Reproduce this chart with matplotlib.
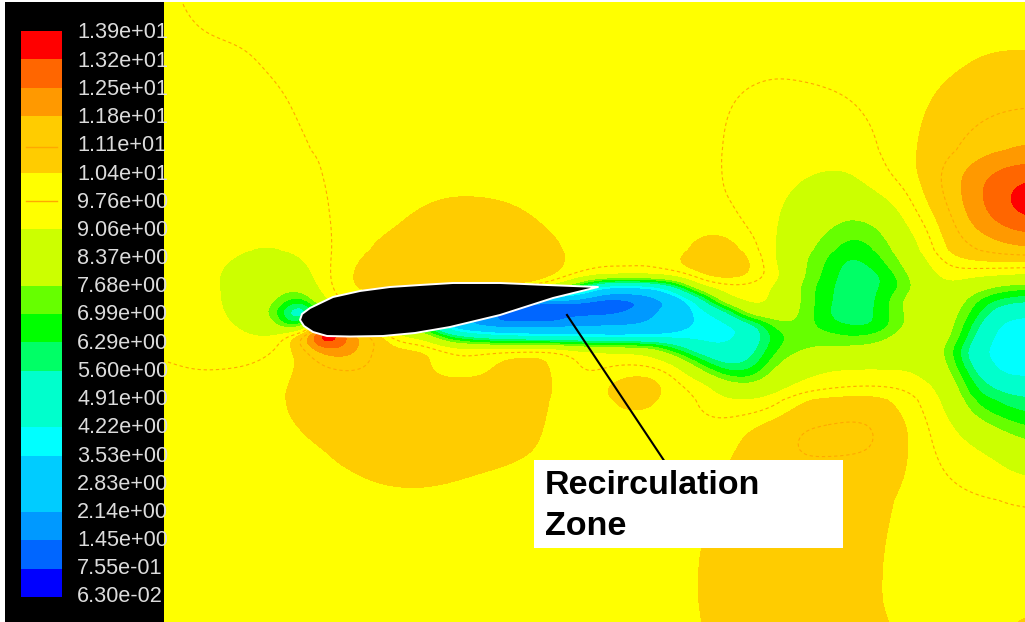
import numpy as np
import matplotlib
matplotlib.use("Agg")
import matplotlib.pyplot as plt
from matplotlib.patches import Polygon, Rectangle

level_labels = ["1.39e+01", "1.32e+01", "1.25e+01", "1.18e+01", "1.11e+01", "1.04e+01", "9.76e+00",
                "9.06e+00", "8.37e+00", "7.68e+00", "6.99e+00", "6.29e+00", "5.60e+00", "4.91e+00",
                "4.22e+00", "3.53e+00", "2.83e+00", "2.14e+00", "1.45e+00", "7.55e-01", "6.30e-02"]
level_values = [float(s) for s in level_labels]
band_colors = ["#ff0000", "#ff6600", "#ff9900", "#ffcc00", "#ffcc00", "#ffff00", "#ffff00",
               "#ccff00", "#ccff00", "#66ff00", "#00ff00", "#00ff66", "#00ffcc", "#00ffcc",
               "#00ffff", "#00ccff", "#00ccff", "#0099ff", "#0066ff", "#0000ff"]
line_levels = [9.76, 11.1]

x_nodes = list(range(150, 1051, 25))
y_nodes = [0, 50, 100, 150, 175, 200, 225, 250, 262, 275, 287, 300, 312, 325, 337, 350, 362, 375,
           387, 400, 425, 450, 475, 500, 550, 600, 625]
speed = [
 [9.7,9.75,9.85,9.9,9.9,9.9,9.9,9.9,9.9,9.9,9.9,9.9,9.9,9.9,9.9,9.9,9.9,9.9,9.9,9.9,9.9,9.9,9.9,9.9,9.9,9.9,9.9,9.9,9.9,9.9,10.0,10.0,10.05,10.1,10.1,10.1,10.1],
 [9.65,9.65,9.7,9.72,9.76,9.85,9.9,9.9,9.9,9.9,9.9,9.9,9.9,9.9,9.9,9.9,9.9,9.9,9.9,9.9,9.9,9.9,9.9,9.9,9.9,9.9,9.9,9.9,9.9,9.95,10.0,10.05,10.15,10.3,10.35,10.35,10.35],
 [9.6,9.6,9.6,9.62,9.65,9.7,9.8,9.9,9.9,9.9,9.9,9.9,9.9,9.9,9.9,9.9,9.9,9.9,9.9,9.9,9.9,9.9,9.85,9.78,9.7,9.65,9.68,9.73,9.8,9.9,10.0,10.35,10.6,10.75,10.85,10.9,10.9],
 [9.55,9.55,9.55,9.55,9.6,9.65,9.72,9.78,9.85,9.9,9.95,10.0,10.0,10.0,10.0,9.95,9.9,9.9,9.9,9.9,9.9,9.9,9.85,9.75,9.6,9.45,9.4,9.35,9.4,9.7,10.1,10.6,10.95,11.4,11.75,11.9,11.9],
 [9.55,9.55,9.55,9.55,9.6,9.65,9.72,9.75,9.9,9.95,10.0,10.05,10.1,10.1,10.05,10.0,9.95,9.9,9.9,9.9,9.9,9.9,9.85,9.76,9.55,9.4,9.15,9.0,9.0,9.5,10.0,10.6,11.5,12.3,12.8,13.0,13.0],
 [9.55,9.55,9.55,9.6,9.6,9.65,9.7,9.72,9.9,10.05,10.2,10.35,10.45,10.45,10.4,10.25,10.05,9.9,9.9,9.9,9.9,9.9,9.85,9.8,9.5,9.2,8.8,8.4,8.3,8.8,9.3,10.4,11.3,12.4,13.0,13.9,13.9],
 [9.55,9.55,9.55,9.6,9.6,9.6,9.7,9.7,9.9,10.15,10.4,10.6,10.75,10.8,10.75,10.6,10.3,9.95,9.9,9.9,9.9,9.95,10.1,10.1,9.6,9.1,8.6,7.9,7.4,7.5,8.8,9.76,10.9,12.0,12.6,12.9,12.9],
 [9.6,9.6,9.55,9.4,8.95,8.9,9.2,9.65,10.05,10.55,10.75,10.85,10.9,10.9,10.9,10.85,10.7,10.2,9.95,9.9,9.9,10.0,10.8,10.9,10.2,9.05,8.0,7.2,6.4,6.85,7.9,9.3,10.6,11.0,11.4,11.6,11.6],
 [9.6,9.6,9.45,9.1,8.7,8.6,8.9,9.6,10.3,10.65,10.8,10.85,10.9,10.95,10.95,10.95,10.8,10.1,9.85,9.9,9.85,10.4,11.0,11.0,10.6,9.0,7.9,7.0,5.9,6.6,7.68,8.9,10.1,10.35,10.45,10.45,10.45],
 [9.6,9.55,9.4,8.95,8.5,8.4,8.5,9.6,10.45,10.7,10.8,10.85,10.9,10.95,10.95,10.9,10.7,10.0,9.7,9.7,9.6,9.65,10.4,10.9,10.5,9.4,7.9,6.8,5.7,5.9,7.2,8.6,9.4,9.2,9.05,8.9,8.9],
 [9.6,9.5,9.6,8.9,8.4,8.2,7.9,9.6,10.4,10.6,10.7,10.8,10.9,10.9,10.9,10.8,9.5,7.0,3.0,2.8,3.0,5.0,9.2,9.45,9.5,9.0,7.6,6.5,5.8,6.1,6.8,8.5,9.0,8.2,7.5,7.2,7.2],
 [9.6,9.5,9.4,9.0,8.5,7.9,6.2,9.2,10.4,10.0,9.0,8.0,6.0,4.0,2.0,1.1,1.0,1.1,1.0,1.1,1.4,2.2,4.3,9.1,9.4,9.0,7.7,6.5,5.7,6.1,7.7,8.6,8.6,7.0,6.0,5.7,5.7],
 [9.6,9.55,9.45,9.05,8.5,7.4,3.0,8.0,9.0,8.0,7.0,6.0,4.0,2.5,1.2,0.7,1.0,1.2,1.2,1.35,1.9,2.7,3.8,4.6,9.0,8.6,7.7,6.3,5.7,6.2,7.6,8.4,8.3,6.7,4.8,4.5,4.5],
 [9.65,9.6,9.5,9.2,8.8,8.0,5.0,14.0,11.0,8.0,7.5,6.0,2.0,1.4,1.2,1.6,1.3,1.9,1.9,2.0,2.1,3.0,3.7,3.8,4.5,7.4,7.7,6.4,6.2,6.0,7.6,8.3,8.2,5.9,3.9,3.7,3.7],
 [9.7,9.65,9.6,9.4,9.1,9.05,11.5,15.0,12.2,11.5,9.0,8.8,6.0,5.0,4.2,3.8,3.7,3.6,3.3,3.3,3.4,3.7,4.0,3.8,4.6,6.6,7.4,7.4,6.9,7.2,8.0,8.6,8.0,5.4,3.7,3.6,3.6],
 [9.7,9.7,9.7,9.65,9.6,9.7,10.6,12.3,12.2,10.8,10.7,10.5,9.9,9.8,10.0,10.3,10.3,9.6,9.2,9.1,8.9,6.5,4.6,4.4,5.0,7.0,7.65,7.8,8.0,8.1,8.4,8.7,7.3,4.6,3.65,3.6,3.6],
 [9.8,9.75,9.72,9.7,9.72,9.85,10.5,11.3,11.6,10.9,10.8,10.6,9.8,9.85,10.5,10.6,10.45,9.7,9.6,9.6,9.5,9.0,6.6,5.0,5.5,7.5,8.3,8.6,8.7,8.7,8.8,9.0,7.5,4.9,3.75,3.7,3.7],
 [9.8,9.8,9.78,9.8,9.85,10.0,10.6,10.8,10.9,10.9,10.9,10.6,10.1,10.2,10.7,10.7,10.5,9.8,9.75,10.4,10.4,9.75,8.5,6.8,6.5,8.2,8.8,9.2,9.3,9.3,9.2,8.9,8.0,5.7,4.1,4.0,4.0],
 [9.85,9.8,9.85,9.9,9.95,10.1,10.7,10.9,10.95,11.0,11.0,11.0,11.0,11.0,10.9,10.85,10.45,10.0,10.3,10.8,10.9,9.9,9.65,8.3,8.0,8.6,9.3,9.55,9.7,9.75,9.7,9.4,8.4,6.2,5.3,5.0,5.0],
 [9.75,9.78,9.8,9.9,10.0,10.1,10.85,11.0,11.0,11.0,11.0,11.0,11.0,11.0,10.95,10.75,10.4,10.0,10.1,10.8,10.7,9.95,9.8,9.1,8.9,9.4,10.35,10.6,10.7,10.7,10.2,9.6,8.7,6.6,6.0,5.6,5.6],
 [9.9,9.9,9.9,9.95,10.0,10.15,10.4,10.8,10.9,10.95,11.0,11.0,11.0,11.0,10.9,10.7,10.3,10.0,9.95,9.95,9.95,9.9,9.85,10.0,10.45,10.8,11.15,11.2,11.25,11.2,10.65,9.85,9.2,8.2,7.4,6.9,6.9],
 [9.9,9.9,9.9,9.95,10.0,10.05,10.2,10.35,10.7,10.9,10.95,10.95,10.95,10.9,10.8,10.55,10.2,10.0,9.95,9.95,9.95,9.95,10.0,10.25,10.6,10.9,11.2,11.2,11.2,11.15,10.7,9.85,9.6,9.2,8.8,8.1,8.1],
 [9.9,9.9,9.9,9.95,9.95,10.0,10.05,10.2,10.3,10.5,10.6,10.6,10.5,10.35,10.2,10.05,10.0,10.0,9.95,9.95,9.95,9.95,10.05,10.4,10.8,10.9,10.9,10.9,10.85,10.75,10.55,9.9,9.75,9.55,9.3,9.0,9.0],
 [9.9,9.9,9.9,9.95,9.95,9.95,10.0,10.05,10.1,10.15,10.2,10.2,10.15,10.1,10.05,10.0,10.0,9.95,9.95,9.95,9.95,9.95,10.1,10.6,10.9,10.9,10.9,10.85,10.8,10.7,10.3,9.95,9.9,9.85,9.82,9.8,9.8],
 [9.95,9.95,9.95,9.95,9.95,9.95,9.95,9.95,9.95,9.95,9.95,9.95,9.95,9.95,9.95,9.95,9.95,9.95,9.95,9.95,9.95,10.0,10.45,10.75,10.9,10.9,10.9,10.85,10.8,10.55,10.1,10.0,9.95,9.95,9.95,9.95,9.95],
 [9.95,9.95,9.95,9.95,9.95,9.95,9.95,9.95,9.95,9.95,9.95,9.95,9.95,9.95,9.95,9.95,9.95,9.95,9.95,9.95,9.95,10.0,10.45,10.8,10.85,10.85,10.85,10.8,10.7,10.5,10.1,10.0,9.95,9.95,10.0,10.1,10.1],
 [9.95,9.95,9.95,9.95,9.95,9.95,9.95,9.95,9.95,9.95,9.95,9.95,9.95,9.95,9.95,9.95,9.95,9.95,9.95,9.95,9.95,10.0,10.35,10.75,10.85,10.85,10.85,10.8,10.7,10.6,10.3,10.0,9.95,10.0,10.3,10.6,10.6],
]

airfoil_x = [300, 302, 310, 333, 360, 390, 420, 453, 500, 547, 598, 553, 500, 450, 415, 383, 350, 327, 313, 304]
airfoil_y = [320, 314, 308, 297, 291, 287, 285, 283, 283, 285, 287, 298, 315, 327, 333, 336, 336.5, 336, 332, 326]
leader_x = [567, 665]
leader_y = [315, 462]
annotation_lines = ["Recirculation", "Zone"]


def fine_axis(n_points, steps):
    return np.linspace(0, n_points - 1, (n_points - 1) * steps + 1)


def soften(arr, axis, steps=8, sigma=0.42):
    """Resample the read-off grid along one axis and round its corners for drawing."""
    arr = np.moveaxis(arr, axis, 0)
    n = arr.shape[0]
    fine = fine_axis(n, steps)
    out = np.array([np.interp(fine, np.arange(n), col) for col in arr.T]).T
    half = int(3 * sigma * steps)
    kern = np.exp(-0.5 * (np.arange(-half, half + 1) / (sigma * steps)) ** 2)
    kern /= kern.sum()
    padded = np.pad(out, ((half, half), (0, 0)), mode="edge")
    out = np.array([np.convolve(col, kern, mode="valid") for col in padded.T]).T
    return np.moveaxis(out, 0, axis)


plt.rcParams['font.family'] = ['Liberation Sans', 'DejaVu Sans']
fig = plt.figure(figsize=(10.25, 6.22), dpi=100, facecolor="white")
ax = fig.add_axes([0, 0, 1, 1])
ax.set_xlim(0, 1025)
ax.set_ylim(622, 0)
ax.axis("off")

Z = np.array(speed, dtype=float)
Z_fine = soften(soften(Z, 0), 1)
x_fine = np.interp(fine_axis(len(x_nodes), 8), np.arange(len(x_nodes)), x_nodes)
y_fine = np.interp(fine_axis(len(y_nodes), 8), np.arange(len(y_nodes)), y_nodes)
Z_fine = np.clip(Z_fine, level_values[-1] + 0.001, level_values[0] - 0.001)
ax.contourf(x_fine, y_fine, Z_fine, levels=level_values[::-1], colors=band_colors[::-1],
            zorder=1, antialiased=False)
ax.contour(x_fine, y_fine, Z_fine, levels=line_levels, colors="#ffa800", linewidths=0.8,
           linestyles=[(0, (3, 2.5))], zorder=2)

# Airfoil
ax.add_patch(Polygon(np.column_stack([airfoil_x, airfoil_y]), closed=True, facecolor="black",
                     edgecolor="white", linewidth=1.4, joinstyle="round", zorder=3))

# Legend panel
ax.add_patch(Rectangle((5, 0), 159, 622, facecolor="black", edgecolor="none", zorder=4))
ax.add_patch(Rectangle((0, 0), 5, 622, facecolor="white", edgecolor="none", zorder=5))
ax.add_patch(Rectangle((0, 0), 1025, 2, facecolor="white", edgecolor="none", zorder=5))

band_h = (597 - 31) / len(band_colors)
band_y = [31 + band_h * (i + 0.5) for i in range(len(band_colors))]
ax.barh(band_y, [41] * len(band_y), left=21, height=band_h, color=band_colors, edgecolor="none", zorder=6)
for v in line_levels:
    idx = level_values.index(min(level_values, key=lambda q: abs(q - v)))
    yy = 31 + band_h * idx + (3 if v > 10 else 0)
    ax.plot([26, 57], [yy, yy], color="#ffa800", lw=1.0, zorder=7)

clip = Rectangle((0, 0), 168, 622, transform=ax.transData)
for i, s in enumerate(level_labels):
    t = ax.text(77, 33 + 28.2 * i, s, color="#dcdcdc", fontsize=15.6, va="center", ha="left", zorder=8)
    t.set_clip_path(clip)

# Annotation
ax.plot(leader_x, leader_y, color="black", lw=1.5, zorder=9)
ax.add_patch(Rectangle((534, 460), 309, 88, facecolor="white", edgecolor="none", zorder=10))
for s, yy in zip(annotation_lines, [485, 526.5]):
    ax.text(545, yy, s, color="black", fontsize=24.5, fontweight="bold", va="center", ha="left", zorder=11)

fig.savefig("out.png", dpi=100, facecolor="white")
